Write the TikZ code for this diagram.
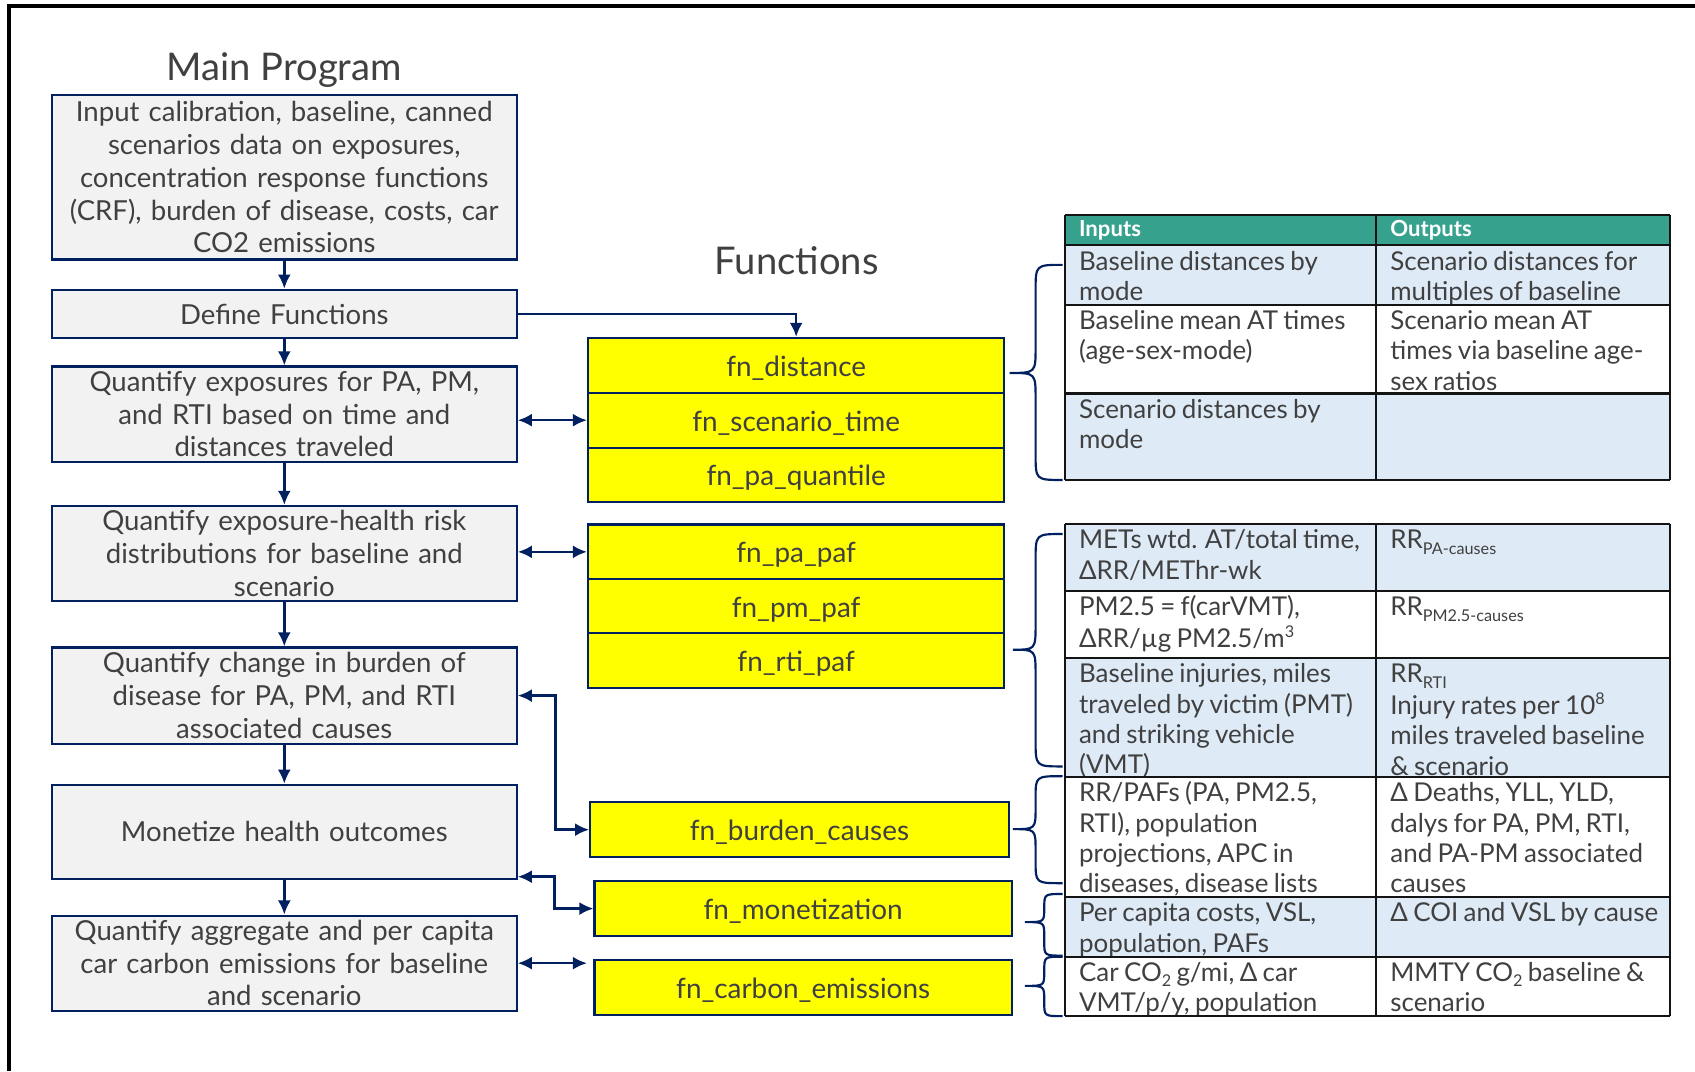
\documentclass[tikz,border=0pt]{standalone}
\usepackage{fontspec}
\setmainfont{Lato}
\newfontfamily\cellfont[WordSpace=0.8]{Lato}
\usetikzlibrary{arrows.meta,calc}

\definecolor{navy}{RGB}{0,32,96}
\definecolor{boxgray}{RGB}{242,242,242}
\definecolor{txt}{RGB}{64,64,64}
\definecolor{fnyellow}{RGB}{255,255,0}
\definecolor{headteal}{RGB}{54,162,142}
\definecolor{cellblue}{RGB}{222,234,246}
\definecolor{gridline}{RGB}{20,20,20}

% small lowered / raised text inside the table cells
\newcommand\lowtxt[1]{\raisebox{-5pt}{\fontsize{15}{15}\selectfont #1}}
\newcommand\hightxt[1]{\raisebox{9pt}{\fontsize{15}{15}\selectfont #1}}

% curly brace opening to the right: end x, spine x, tip x, top y, tip y, bottom y, curl size
\newcommand\curlybrace[7]{%
  \draw[bracestyle] (#1,#4) .. controls (#2,#4) .. (#2,#4+#7) -- (#2,#5-#7)
    .. controls (#2,#5) .. (#3,#5) .. controls (#2,#5) .. (#2,#5+#7)
    -- (#2,#6-#7) .. controls (#2,#6) .. (#1,#6);}

\begin{document}
\begin{tikzpicture}[x=1pt,y=-1pt,
  mainbox/.style={draw=navy, line width=2pt, fill=boxgray, text=txt,
    minimum width=430pt, text width=420pt, align=center, inner sep=0pt,
    font=\fontsize{25.5}{30.3}\selectfont},
  fnbox/.style={draw=navy, line width=2pt, fill=fnyellow, text=txt,
    inner sep=0pt, align=center, minimum height=50.7pt,
    text height=20pt, text depth=0pt,
    font=\fontsize{25.8}{30}\selectfont},
  flow/.style={navy, line width=2.3pt, -{Latex[length=13pt,width=12pt]}},
  twoway/.style={navy, line width=2.3pt,
    {Latex[length=13pt,width=12pt]}-{Latex[length=13pt,width=12pt]}},
  bracestyle/.style={navy, line width=2pt},
  celltxt/.style={anchor=north west, inner sep=0pt, text=txt, align=left,
    font=\cellfont\fontsize{24}{28}\selectfont},
  headtxt/.style={anchor=west, inner sep=0pt, text=white,
    font=\fontsize{20.5}{24}\bfseries\selectfont},
  heading/.style={text=txt, inner sep=0pt, font=\fontsize{35.3}{40}\selectfont}
]
\useasboundingbox (0,0) rectangle (1568,991);
\fill[white] (0,0) rectangle (1568,991);

% frame
\draw[line width=3.5pt] (8,991) -- (8,5.5) -- (1568,5.5);

% titles
\node[heading] (maintitle) at (263,65) {Main Program};
\node[heading] (fntitle) at (737,241) {Functions};

% main program steps
\node[mainbox, minimum height=152pt] (b1) at (263,164) {Input calibration, baseline, canned\\ scenarios data on exposures,\\ concentration response functions\\ (CRF), burden of disease, costs, car\\ CO2 emissions};
\node[mainbox, minimum height=45pt] (b2) at (263,290.5) {Define Functions};
\node[mainbox, minimum height=88pt] (b3) at (263,383) {Quantify exposures for PA, PM,\\ and RTI based on time and\\ distances traveled};
\node[mainbox, minimum height=88pt] (b4) at (263,512) {Quantify exposure-health risk\\ distributions for baseline and\\ scenario};
\node[mainbox, minimum height=89pt] (b5) at (263,643.5) {Quantify change in burden of\\ disease for PA, PM, and RTI\\ associated causes};
\node[mainbox, minimum height=87pt] (b6) at (263,769.5) {Monetize health outcomes};
\node[mainbox, minimum height=88pt] (b7) at (263,891) {Quantify aggregate and per capita\\ car carbon emissions for baseline\\ and scenario};

% functions
\node[fnbox, minimum width=385pt] (f1) at (736.5,338) {fn\_distance};
\node[fnbox, minimum width=385pt] (f2) at (736.5,388.7) {fn\_scenario\_time};
\node[fnbox, minimum width=385pt] (f3) at (736.5,439.4) {fn\_pa\_quantile};
\node[fnbox, minimum width=385pt] (p1) at (736.5,510.5) {fn\_pa\_paf};
\node[fnbox, minimum width=385pt] (p2) at (736.5,561) {fn\_pm\_paf};
\node[fnbox, minimum width=385pt] (p3) at (736.5,611.2) {fn\_rti\_paf};
\node[fnbox, minimum width=387pt] (burden) at (739.5,767.5) {fn\_burden\_causes};
\node[fnbox, minimum width=386pt] (mon) at (743,840.5) {fn\_monetization};
\node[fnbox, minimum width=386pt] (carbon) at (743,913.5) {fn\_carbon\_emissions};

% flow of the main program
\draw[flow] (b1) -- (b2);
\draw[flow] (b2) -- (b3);
\draw[flow] (b3) -- (b4);
\draw[flow] (b4) -- (b5);
\draw[flow] (b5) -- (b6);
\draw[flow] (b6) -- (b7);
\draw[flow] (b2.east) -| (f1.north);

% calls between steps and functions
\draw[twoway] (b3.east |- f2.west) -- (f2.west);
\draw[twoway] (b4.east |- p1.west) -- (p1.west);
\draw[twoway] (b5.east) -- ++(35,0) |- (burden.west);
\draw[twoway] ($(b6.south east)+(0,-3)$) -- ++(34,0) |- (mon.west);
\draw[twoway, shorten >=6pt] (b7.east) -- (b7.east -| carbon.west);

% table fills
\fill[headteal] (985,199) rectangle (1545,227);
\fill[cellblue] (985,227) rectangle (1545,282);
\fill[cellblue] (985,364) rectangle (1545,444);
\fill[cellblue] (985,485) rectangle (1545,547);
\fill[cellblue] (985,609) rectangle (1545,719);
\fill[cellblue] (985,830) rectangle (1545,885);

% table header
\node[headtxt] (hin) at (998,213) {Inputs};
\node[headtxt] (hout) at (1286,213) {Outputs};

% table cells
\node[celltxt] (in1) at (998,230) {\strut Baseline distances by\\ mode};
\node[celltxt] (out1) at (1286,230) {\strut Scenario distances for\\ multiples of baseline};
\node[celltxt] (in2) at (998,285) {\strut Baseline mean AT times\\ (age-sex-mode)};
\node[celltxt] (out2) at (1286,285) {\strut Scenario mean AT\\ times via baseline age-\\ sex ratios};
\node[celltxt] (in3) at (998,367) {\strut Scenario distances by\\ mode};
\node[celltxt] (in4) at (998,488) {\strut METs wtd. AT/total time,\\ ΔRR/METhr-wk};
\node[celltxt] (out4) at (1286,488) {\strut RR\lowtxt{PA-causes}};
\node[celltxt] (in5) at (998,550) {\strut PM2.5 = f(carVMT),\\ ΔRR/µg PM2.5/m\hightxt{3}};
\node[celltxt] (out5) at (1286,550) {\strut RR\lowtxt{PM2.5-causes}};
\node[celltxt] (in6) at (998,612) {\strut Baseline injuries, miles\\ traveled by victim (PMT)\\ and striking vehicle\\ (VMT)};
\node[celltxt] (out6) at (1286,612) {\strut RR\lowtxt{RTI}\\ Injury rates per 10\hightxt{8}\\ miles traveled baseline\\ \& scenario};
\node[celltxt] (in7) at (998,722) {\strut RR/PAFs (PA, PM2.5,\\ RTI), population\\ projections, APC in\\ diseases, disease lists};
\node[celltxt] (out7) at (1286,722) {\strut Δ Deaths, YLL, YLD,\\ dalys for PA, PM, RTI,\\ and PA-PM associated\\ causes};
\node[celltxt] (in8) at (998,833) {\strut Per capita costs, VSL,\\ population, PAFs};
\node[celltxt] (out8) at (1286,833) {\strut Δ COI and VSL by cause};
\node[celltxt] (in9) at (998,888) {\strut Car CO\lowtxt{2} g/mi, Δ car\\ VMT/p/y, population};
\node[celltxt] (out9) at (1286,888) {\strut MMTY CO\lowtxt{2} baseline \&\\ scenario};

% table grid
\begin{scope}[gridline, line width=2pt]
  \foreach \yy in {199,227,282,364,444} \draw (985,\yy) -- (1545,\yy);
  \foreach \xx in {985,1273,1545} \draw (\xx,199) -- (\xx,444);
  \foreach \yy in {485,547,609,719,830,885,940} \draw (985,\yy) -- (1545,\yy);
  \foreach \xx in {985,1273,1545} \draw (\xx,485) -- (\xx,940);
\end{scope}

% braces linking functions to their inputs and outputs
\curlybrace{983}{958}{934}{245}{345}{444}{24}
\curlybrace{983}{958}{937}{494}{601}{709}{24}
\curlybrace{983}{958}{937}{718}{767}{817}{20}
\curlybrace{983}{966}{948}{827}{853}{884}{13}
\curlybrace{983}{966}{948}{885}{912}{940}{13}
\end{tikzpicture}
\end{document}
